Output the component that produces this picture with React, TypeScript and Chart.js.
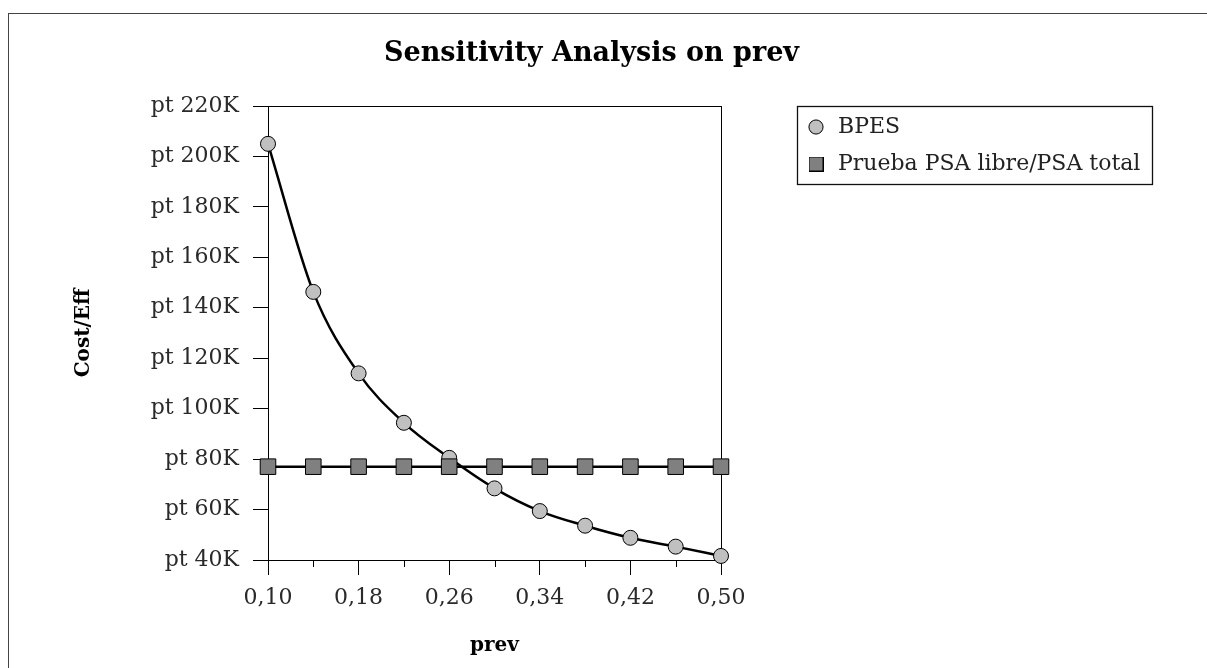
import React, { useEffect, useRef } from 'react';
import { Chart, registerables } from 'chart.js';

Chart.register(...registerables);

const chartTitle = 'Sensitivity Analysis on prev';
const xTitle = 'prev';
const yTitle = 'Cost/Eff';
const seriesNames = ['BPES', 'Prueba PSA libre/PSA total'];
const prevValues = [0.10, 0.14, 0.18, 0.22, 0.26, 0.30, 0.34, 0.38, 0.42, 0.46, 0.50];
const bpesValues = [205000, 146300, 114000, 94400, 80500, 68400, 59400, 53600, 48800, 45300, 41600];
const psaValues = [77000, 77000, 77000, 77000, 77000, 77000, 77000, 77000, 77000, 77000, 77000];
const xTickLabels = ['0,10', '0,18', '0,26', '0,34', '0,42', '0,50'];
const yTickLabels = ['pt 40K', 'pt 60K', 'pt 80K', 'pt 100K', 'pt 120K', 'pt 140K', 'pt 160K', 'pt 180K', 'pt 200K', 'pt 220K'];

const FONT = "'DejaVu Serif', serif";
const CLEAR = 'rgba(0,0,0,0)';

export default function App() {
  const ref = useRef<HTMLCanvasElement>(null);

  useEffect(() => {
    const sq = document.createElement('canvas');
    sq.width = 15;
    sq.height = 15;
    const sctx = sq.getContext('2d')!;
    sctx.fillStyle = '#808080';
    sctx.fillRect(0, 0, 15, 15);
    sctx.strokeStyle = '#000';
    sctx.lineWidth = 1;
    sctx.strokeRect(0.5, 0.5, 14, 14);

    const framePlugin = {
      id: 'framePlugin',
      beforeLayout(chart: any) {
        const lg = chart.legend;
        if (lg && !lg.__wrapped) {
          const orig = lg.fit;
          lg.fit = function () {
            orig.call(this);
            this.width = 384;
          };
          lg.__wrapped = true;
        }
      },
      afterLayout(chart: any) {
        const lg = chart.legend;
        if (lg) {
          lg.top -= 5;
          lg.bottom -= 5;
        }
      },
      afterDraw(chart: any) {
        const ctx = chart.ctx;
        const xs = chart.scales.x;
        ctx.save();
        ctx.strokeStyle = '#000';
        ctx.lineWidth = 1;
        xs.ticks.forEach((t: any, i: number) => {
          if (i % 2 === 1) {
            const px = Math.round(xs.getPixelForTick(i)) + 0.5;
            ctx.beginPath();
            ctx.moveTo(px, xs.top);
            ctx.lineTo(px, xs.top + 7);
            ctx.stroke();
          }
        });
        const lg = chart.legend;
        if (lg && lg.legendHitBoxes && lg.legendHitBoxes.length) {
          const hb = lg.legendHitBoxes;
          const left = Math.round(lg.left + 7);
          const top = Math.round(chart.chartArea.top);
          const right = Math.round(Math.max(...hb.map((h: any) => h.left + h.width)) + 12);
          const last = hb[hb.length - 1];
          const bottom = Math.round(last.top + last.height + 9);
          ctx.strokeStyle = '#111';
          ctx.lineWidth = 1.3;
          ctx.strokeRect(left + 0.5, top + 0.5, right - left, bottom - top);
        }
        ctx.restore();
      },
    };

    Chart.defaults.font.family = FONT;

    const chart = new Chart(ref.current!, {
      type: 'line',
      data: {
        datasets: [
          {
            label: seriesNames[0],
            data: prevValues.map((x, i) => ({ x, y: bpesValues[i] })),
            borderColor: '#000',
            backgroundColor: '#c0c0c0',
            borderWidth: 2.5,
            pointStyle: 'circle',
            pointRadius: 7.5,
            pointBorderWidth: 1,
            pointBorderColor: '#000',
            pointBackgroundColor: '#c0c0c0',
            cubicInterpolationMode: 'monotone',
            fill: false,
            clip: false,
            order: 2,
          },
          {
            label: seriesNames[1],
            data: prevValues.map((x, i) => ({ x, y: psaValues[i] })),
            borderColor: '#000',
            backgroundColor: '#808080',
            borderWidth: 2.5,
            pointStyle: 'rect',
            pointRadius: 11,
            pointBorderWidth: 1,
            pointBorderColor: '#000',
            pointBackgroundColor: '#808080',
            fill: false,
            clip: false,
            order: 1,
          },
        ],
      } as any,
      options: {
        responsive: false,
        animation: false,
        layout: { padding: { left: 0, right: 33, top: 0, bottom: 0 } },
        plugins: {
          title: {
            display: true,
            text: chartTitle,
            color: '#000',
            font: { family: FONT, size: 27, weight: 'bold' },
            padding: { top: 23.8, bottom: 35.8 },
          },
          legend: {
            display: true,
            position: 'right',
            align: 'start',
            fullSize: false,
            labels: {
              usePointStyle: true,
              boxWidth: 22,
              boxHeight: 10,
              padding: 15,
              color: '#222',
              font: { family: FONT, size: 22 },
              sort: (a: any, b: any) => a.datasetIndex - b.datasetIndex,
              generateLabels: (ch: any) => {
                const items = (Chart.defaults.plugins.legend.labels as any).generateLabels(ch);
                return items.map((it: any) => ({
                  ...it,
                  lineWidth: 1,
                  strokeStyle: '#000',
                  fillStyle: it.datasetIndex === 1 ? '#808080' : '#c0c0c0',
                  pointStyle: it.datasetIndex === 1 ? sq : 'circle',
                }));
              },
            },
          },
          tooltip: { enabled: false },
        },
        scales: {
          x: {
            type: 'linear',
            position: 'bottom',
            min: 0.1,
            max: 0.5,
            ticks: {
              stepSize: 0.04,
              autoSkip: false,
              maxRotation: 0,
              padding: 10,
              color: '#2a2a2a',
              font: { family: FONT, size: 22 },
              callback: (_v: any, i: number) => (i % 2 === 0 ? xTickLabels[i / 2] : ''),
            },
            grid: {
              drawOnChartArea: true,
              tickLength: 15,
              lineWidth: 1,
              color: (c: any) => (c.index === prevValues.length - 1 ? '#000' : CLEAR),
              tickColor: (c: any) => (c.index % 2 === 0 ? '#000' : CLEAR),
            },
            border: { display: true, color: '#000', width: 1 },
            title: {
              display: true,
              text: xTitle,
              color: '#000',
              font: { family: FONT, size: 20, weight: 'bold' },
              padding: { top: 0, bottom: 10 },
            },
            afterFit: (s: any) => {
              s.height = 108;
            },
          },
          y: {
            type: 'linear',
            position: 'left',
            min: 40000,
            max: 220000,
            ticks: {
              stepSize: 20000,
              padding: 14,
              color: '#2a2a2a',
              font: { family: FONT, size: 22 },
              callback: (_v: any, i: number) => yTickLabels[i],
            },
            grid: {
              drawOnChartArea: true,
              tickLength: 15,
              lineWidth: 1,
              color: (c: any) => (c.index === yTickLabels.length - 1 ? '#000' : CLEAR),
              tickColor: '#000',
            },
            border: { display: true, color: '#000', width: 1 },
            title: {
              display: true,
              text: yTitle,
              color: '#000',
              font: { family: FONT, size: 20, weight: 'bold' },
              padding: { top: 63, bottom: 0 },
            },
            afterFit: (s: any) => {
              s.width = 259;
            },
          },
          y2: {
            type: 'linear',
            position: 'right',
            display: true,
            grid: { display: false },
            ticks: { display: false },
            border: { display: false },
            afterFit: (s: any) => {
              s.width = 69;
            },
          },
        },
      } as any,
      plugins: [framePlugin],
    });

    return () => chart.destroy();
  }, []);

  return (
    <div
      style={{
        position: 'absolute',
        left: 8,
        top: 13,
        width: 1199,
        height: 655,
        borderLeft: '1px solid #444',
        borderTop: '1px solid #444',
        boxSizing: 'border-box',
        background: '#fff',
      }}
    >
      <canvas ref={ref} width={1198} height={654} style={{ display: 'block', width: 1198, height: 654 }} />
    </div>
  );
}
